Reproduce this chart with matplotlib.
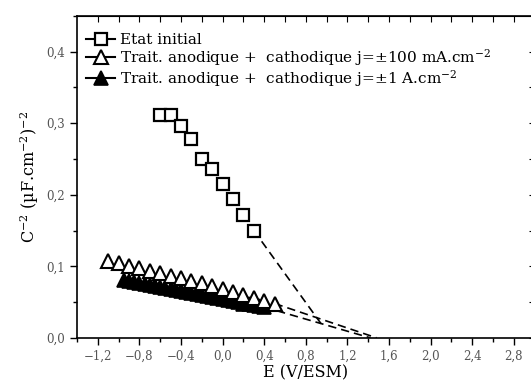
import numpy as np
from matplotlib import pyplot as plt
from matplotlib import rc
from matplotlib.lines import Line2D
from matplotlib.ticker import MultipleLocator, FuncFormatter

rc('font', family='DejaVu Serif')
rc('mathtext', fontset='dejavuserif')

# Etat initial
e_init = [-0.6, -0.5, -0.4, -0.3, -0.2, -0.1, 0.0, 0.1, 0.2, 0.3]
c_init = [0.312, 0.311, 0.296, 0.278, 0.250, 0.236, 0.215, 0.194, 0.172, 0.150]

# Trait. anodique + cathodique j=±100 mA.cm-2
e_100 = [-1.1, -1.0, -0.9, -0.8, -0.7, -0.6, -0.5, -0.4, -0.3, -0.2, -0.1,
         0.0, 0.1, 0.2, 0.3, 0.4, 0.5]
c_100 = [0.107, 0.104, 0.100, 0.097, 0.094, 0.090, 0.087, 0.083, 0.080,
         0.076, 0.072, 0.068, 0.064, 0.060, 0.056, 0.052, 0.048]

# Trait. anodique + cathodique j=±1 A.cm-2
e_1a = [-0.95, -0.90, -0.85, -0.80, -0.75, -0.70, -0.65, -0.60, -0.55, -0.50,
        -0.45, -0.40, -0.35, -0.30, -0.25, -0.20, -0.15, -0.10, -0.05, 0.00,
        0.05, 0.10, 0.15, 0.20, 0.25, 0.30, 0.35, 0.40]
c_1a = [0.081, 0.080, 0.078, 0.077, 0.075, 0.074, 0.073, 0.071, 0.070, 0.068,
        0.067, 0.066, 0.064, 0.063, 0.061, 0.060, 0.058, 0.057, 0.056, 0.054,
        0.053, 0.051, 0.050, 0.048, 0.047, 0.046, 0.044, 0.043]

# extrapolations (dashed)
ext_init = ([0.3, 0.97], [0.150, 0.015])
ext_100 = ([0.5, 1.48], [0.048, 0.0])
ext_1a = ([0.4, 1.42], [0.043, 0.0])

labels = ['Etat initial',
          'Trait. anodique +  cathodique j=\u00b1100 mA.cm$^{-2}$',
          'Trait. anodique +  cathodique j=\u00b11 A.cm$^{-2}$']

fig = plt.figure(figsize=(5.31, 3.87), dpi=100)
ax = fig.add_axes([0.145, 0.127, 0.862, 0.832])

for ex in (ext_init, ext_100, ext_1a):
    ax.plot(*ex, 'k--', lw=1.2, dashes=(5, 3))

ax.plot(e_1a, c_1a, ls='none', marker='^', ms=10, mfc='k', mec='k', mew=1.2)
ax.plot(e_100, c_100, ls='none', marker='^', ms=10.5, mfc='white', mec='k', mew=1.5)
ax.plot(e_init, c_init, ls='none', marker='s', ms=8.5, mfc='white', mec='k', mew=1.6)

handles = [
    Line2D([], [], color='k', lw=1.5, marker='s', ms=8, mfc='white', mec='k', mew=1.6),
    Line2D([], [], color='k', lw=1.5, marker='^', ms=9.5, mfc='white', mec='k', mew=1.5),
    Line2D([], [], color='k', lw=1.5, marker='^', ms=9.5, mfc='k', mec='k', mew=1.2),
]
ax.legend(handles, labels, loc='upper left', frameon=False, fontsize=11,
          handlelength=1.9, handletextpad=0.3, labelspacing=0.0,
          borderaxespad=0.2, bbox_to_anchor=(0.0, 0.975))

ax.set_xlim(-1.4, 3.0)
ax.set_ylim(0.0, 0.45)
ax.xaxis.set_major_locator(MultipleLocator(0.4))
ax.xaxis.set_minor_locator(MultipleLocator(0.2))
ax.yaxis.set_major_locator(MultipleLocator(0.1))
ax.yaxis.set_minor_locator(MultipleLocator(0.05))
fmt = FuncFormatter(lambda v, p: f'{v:.1f}'.replace('.', ',').replace('-', '\u2212'))
ax.xaxis.set_major_formatter(fmt)
ax.yaxis.set_major_formatter(fmt)

ax.tick_params(which='both', direction='out', top=False, right=False,
               labelsize=8.5, labelcolor='#555555', width=1.0)
ax.tick_params(which='major', length=5)
ax.tick_params(which='minor', length=3)
for s in ax.spines.values():
    s.set_linewidth(1.2)

# top / right mirrored ticks pointing inward
sx = ax.secondary_xaxis('top')
sx.set_xticks(np.arange(-1.2, 3.0, 0.2))
sx.tick_params(direction='in', length=4, labeltop=False)
sy = ax.secondary_yaxis('right')
sy.set_yticks(np.arange(0.0, 0.45, 0.05))
sy.tick_params(direction='in', length=4, labelright=False)

ax.set_xlabel('E (V/ESM)', fontsize=11.5, labelpad=1)
ax.set_ylabel('C$^{-2}$ (\u00b5F.cm$^{-2}$)$^{-2}$', fontsize=11.5, labelpad=4)

fig.savefig('out.png', dpi=100)
